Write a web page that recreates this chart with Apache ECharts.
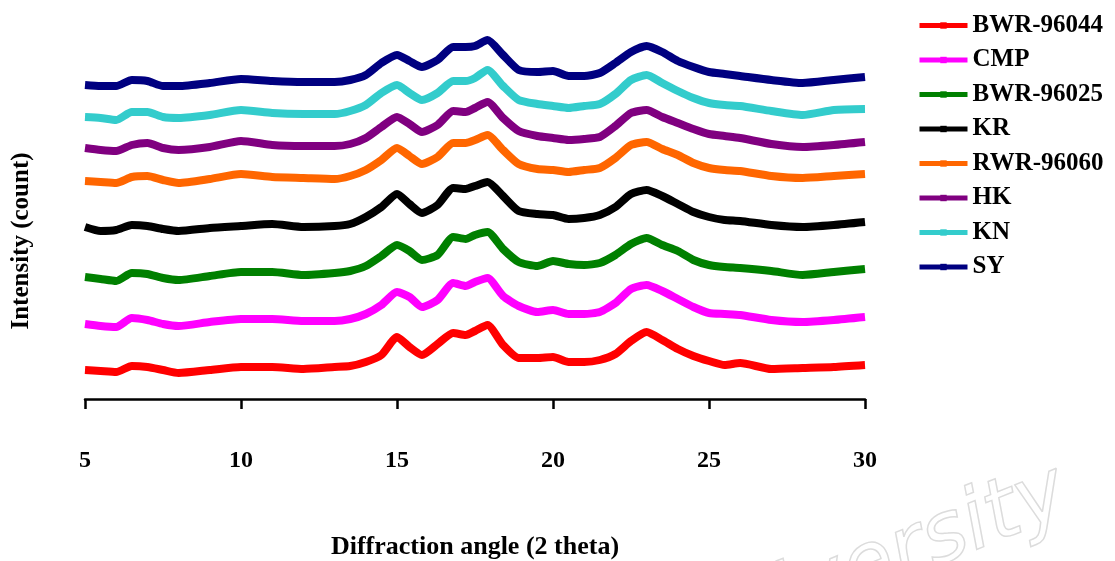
<!DOCTYPE html>
<html>
<head>
<meta charset="utf-8">
<script src="https://cdn.jsdelivr.net/npm/echarts@6/dist/echarts.min.js"></script>
<style>
  html, body { margin: 0; padding: 0; background: #fff; }
  #chart { width: 1115px; height: 561px; }
</style>
</head>
<body>
<div id="chart"></div>
<script>
// diffraction angle (2 theta) sample points
const angles = [5, 5.5, 6, 6.5, 7, 7.5, 8, 9, 10, 11, 12, 13, 13.5, 14, 14.5, 15, 15.4, 15.8, 16.3, 16.8,
  17.2, 17.5, 17.9, 18.4, 18.9, 19.5, 20, 20.5, 21, 21.5, 22, 22.5, 23, 23.5, 24, 24.5, 25, 25.5, 26, 27, 28, 29, 30];

// intensity (offset traces, arbitrary counts)
const bwr96044 = [29, 28, 27, 33, 32, 29, 26, 29, 32, 32, 30, 32, 33, 37, 44, 62, 52, 44, 55, 66,
  64, 68, 74, 54, 41, 41, 42, 37, 37, 39, 45, 58, 67, 59, 50, 43, 38, 34, 36, 30, 31, 32, 34];
const cmp = [75, 73, 72, 81, 79, 75, 73, 77, 80, 80, 78, 78, 80, 85, 94, 107, 102, 92, 99, 116,
  113, 117, 121, 103, 93, 87, 89, 85, 85, 87, 96, 110, 114, 108, 100, 92, 86, 85, 84, 79, 77, 79, 82];
const bwr96025 = [122, 120, 118, 126, 125, 121, 119, 123, 127, 127, 124, 126, 128, 133, 143, 154, 148, 139, 144, 162,
  160, 164, 167, 150, 137, 133, 138, 135, 134, 136, 144, 155, 161, 154, 148, 139, 134, 132, 131, 128, 124, 127, 130];
const kr = [172, 168, 169, 174, 173, 170, 168, 171, 173, 175, 172, 173, 175, 182, 192, 205, 195, 186, 194, 211,
  210, 213, 217, 203, 188, 185, 184, 180, 181, 184, 192, 205, 209, 203, 195, 187, 182, 179, 178, 174, 172, 174, 177];
const rwr96060 = [218, 217, 216, 222, 223, 219, 216, 220, 225, 222, 221, 220, 223, 229, 239, 251, 243, 235, 242, 256,
  256, 259, 264, 249, 235, 230, 229, 227, 229, 231, 241, 254, 257, 250, 244, 236, 231, 229, 228, 223, 221, 223, 225];
const hk = [251, 249, 248, 254, 256, 251, 249, 252, 258, 254, 253, 253, 255, 261, 272, 282, 275, 267, 274, 288,
  287, 291, 297, 281, 268, 263, 261, 259, 260, 262, 273, 286, 289, 282, 276, 270, 265, 263, 261, 255, 252, 254, 257];
const kn = [282, 281, 279, 287, 287, 282, 281, 284, 289, 286, 285, 285, 288, 294, 306, 314, 306, 299, 306, 318,
  318, 321, 329, 313, 299, 295, 293, 291, 293, 295, 305, 319, 324, 316, 308, 301, 296, 294, 293, 288, 284, 289, 290];
const sy = [314, 313, 313, 319, 318, 313, 313, 316, 320, 318, 317, 317, 319, 324, 336, 344, 338, 332, 339, 352,
  352, 353, 359, 344, 329, 327, 328, 323, 323, 326, 336, 347, 353, 347, 338, 332, 327, 325, 323, 319, 316, 319, 322];

const names = ['BWR-96044', 'CMP', 'BWR-96025', 'KR', 'RWR-96060', 'HK', 'KN', 'SY'];
const traces = [bwr96044, cmp, bwr96025, kr, rwr96060, hk, kn, sy];
const colors = ['#ff0000', '#ff00ff', '#008000', '#000000', '#ff6600', '#800080', '#33cccc', '#000080'];

const font = 'Liberation Serif, Times New Roman, serif';

const chart = echarts.init(document.getElementById('chart'));

const series = names.map((name, i) => ({
  name: name,
  type: 'line',
  data: angles.map((a, j) => [a, traces[i][j]]),
  symbol: 'rect',
  symbolSize: 6,
  showSymbol: false,
  smooth: 0.2,
  lineStyle: { width: 8, color: colors[i] },
  itemStyle: { color: colors[i] },
  emphasis: { disabled: true }
}));

chart.setOption({
  animation: false,
  color: colors,
  grid: { left: 85, right: 250, top: 29, bottom: 162, outerBoundsMode: 'none' },
  legend: {
    orient: 'vertical',
    left: 912,
    top: 8,
    itemWidth: 48,
    itemHeight: 8,
    itemGap: 9.5,
    data: names,
    lineStyle: { width: 5 },
    textStyle: { fontFamily: font, fontWeight: 'bold', fontSize: 25, lineHeight: 25, color: '#000' }
  },
  xAxis: {
    type: 'value',
    min: 5,
    max: 30,
    interval: 5,
    name: 'Diffraction angle (2 theta)',
    nameLocation: 'middle',
    nameGap: 135,
    nameTextStyle: { fontFamily: font, fontWeight: 'bold', fontSize: 26, color: '#000' },
    axisLine: { lineStyle: { color: '#000', width: 2.5 } },
    axisTick: { length: 10, lineStyle: { color: '#000', width: 2.5 } },
    axisLabel: { margin: 50, fontFamily: font, fontWeight: 'bold', fontSize: 24, color: '#000' },
    splitLine: { show: false }
  },
  yAxis: {
    type: 'value',
    min: 0,
    max: 370,
    show: false
  },
  graphic: [
    {
      type: 'text',
      x: 22,
      y: 241,
      rotation: Math.PI / 2,
      style: {
        text: 'Intensity (count)',
        fontFamily: font,
        fontWeight: 'bold',
        fontSize: 25,
        fill: '#000',
        align: 'center',
        verticalAlign: 'middle'
      }
    },
    {
      type: 'text',
      x: 1080,
      y: 530,
      rotation: 0.38,
      z: -1,
      style: {
        text: 'University',
        fontFamily: 'DejaVu Sans',
        fontStyle: 'italic',
        fontSize: 84,
        fill: 'rgba(0,0,0,0)',
        stroke: '#dcdcdc',
        lineWidth: 1.5,
        align: 'right',
        verticalAlign: 'bottom'
      }
    }
  ],
  series: series
});
</script>
</body>
</html>
